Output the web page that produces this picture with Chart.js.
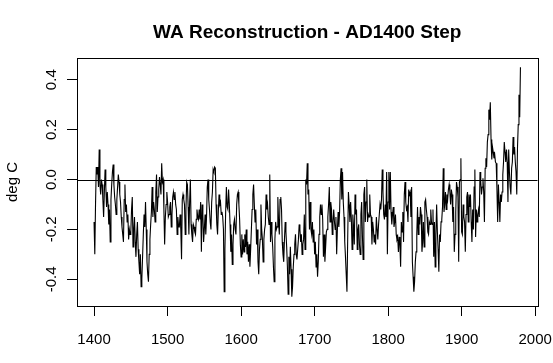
<!DOCTYPE html>
<html>
<head>
<meta charset="utf-8">
<script src="https://cdn.jsdelivr.net/npm/chart.js@4/dist/chart.umd.min.js"></script>
<style>
  html, body { margin: 0; padding: 0; background: #fff; }
  #myChart { display: block; }
</style>
</head>
<body>
<canvas id="myChart" width="553" height="363"></canvas>
<script>
// WA reconstruction, AD1400 step, one value per year (deg C)
const startYear = 1400;

const wa1400s = [
  -0.17, -0.30, -0.10, 0.05, 0.02, 0.05, -0.03, 0.12, -0.02, -0.06,
  0.00, -0.02, -0.08, -0.15, -0.05, 0.04, -0.03, -0.11, -0.05, -0.10,
  -0.18, -0.12, -0.25, -0.08, -0.02, 0.03, 0.06, -0.02, -0.07, -0.10,
  -0.14, -0.08, -0.03, 0.02, -0.01, -0.06, -0.09, -0.15, -0.19, -0.22,
  -0.25, -0.08, -0.02, -0.13, -0.10, -0.17, -0.14, -0.24, -0.20, -0.22,
  -0.21, -0.12, -0.07, -0.27, -0.20, -0.15, -0.25, -0.31, -0.22, -0.17,
  -0.28, -0.33, -0.38, -0.30, -0.43, -0.40, -0.31, -0.22, -0.14, -0.19,
  -0.09, -0.20, -0.33, -0.38, -0.41, -0.30, -0.24, -0.18, -0.13, -0.03,
  -0.15, -0.09, -0.12, -0.17, -0.05, 0.02, -0.13, -0.07, -0.04, 0.01,
  -0.02, -0.06, 0.065, -0.01, 0.00, -0.12, -0.26, -0.15, -0.10, -0.05
];
const wa1500s = [
  -0.09, -0.15, -0.14, -0.11, -0.09, -0.19, -0.14, -0.07, -0.05, -0.08,
  -0.05, -0.10, -0.12, -0.22, -0.15, -0.19, -0.19, -0.14, -0.20, -0.32,
  -0.08, -0.06, -0.08, -0.10, -0.22, -0.12, -0.01, -0.02, -0.11, -0.22,
  -0.09, 0.00, -0.18, -0.22, -0.25, -0.18, -0.19, -0.21, -0.22, -0.16,
  -0.12, -0.15, -0.16, -0.12, -0.16, -0.09, -0.29, -0.10, -0.14, -0.25,
  -0.20, -0.14, -0.22, -0.15, -0.03, 0.00, -0.08, -0.12, -0.17, -0.20,
  -0.09, -0.05, 0.04, 0.03, 0.05, 0.045, -0.10, -0.18, -0.22, -0.13,
  -0.06, -0.10, -0.09, -0.14, -0.13, -0.15, -0.20, -0.45, -0.28, -0.13,
  -0.03, -0.11, -0.12, -0.04, -0.10, -0.18, -0.29, -0.22, -0.34, -0.26,
  -0.18, -0.16, -0.20, -0.22, -0.10, -0.06, -0.05, -0.10, -0.16, -0.26
];
const wa1600s = [
  -0.31, -0.22, -0.30, -0.24, -0.29, -0.22, -0.27, -0.20, -0.30, -0.25,
  -0.33, -0.26, -0.35, -0.28, -0.20, -0.12, -0.06, -0.02, -0.10, -0.17,
  -0.12, -0.26, -0.20, -0.33, -0.38, -0.28, -0.24, -0.10, -0.20, -0.24,
  -0.33, -0.24, -0.20, -0.18, -0.06, -0.12, -0.10, -0.15, -0.18, 0.02,
  -0.25, -0.17, -0.22, -0.27, -0.35, -0.41, -0.24, -0.17, -0.20, -0.19,
  -0.07, -0.17, -0.22, -0.08, -0.07, -0.12, -0.25, -0.30, -0.33, -0.24,
  -0.17, -0.21, -0.27, -0.35, -0.46, -0.31, -0.38, -0.27, -0.36, -0.47,
  -0.43, -0.35, -0.30, -0.26, -0.22, -0.30, -0.32, -0.28, -0.24, -0.18,
  -0.20, -0.25, -0.22, -0.30, -0.26, -0.24, -0.14, -0.28, 0.00, -0.02,
  0.065, -0.06, -0.04, -0.20, -0.09, -0.20, -0.22, -0.17, -0.25, -0.20
];
const wa1700s = [
  -0.30, -0.25, -0.35, -0.30, -0.39, -0.33, -0.22, -0.15, -0.10, -0.14,
  -0.10, -0.16, -0.31, -0.22, -0.33, -0.27, -0.21, -0.20, -0.15, -0.10,
  -0.03, -0.17, -0.09, -0.12, -0.22, -0.17, -0.12, -0.17, -0.20, -0.15,
  -0.30, -0.20, -0.13, -0.19, -0.13, 0.00, 0.045, -0.08, 0.03, -0.09,
  -0.15, -0.25, -0.31, -0.38, -0.45, -0.24, -0.05, -0.10, -0.17, -0.09,
  -0.16, -0.28, -0.14, -0.19, -0.26, -0.06, -0.14, -0.12, -0.28, -0.20,
  -0.18, -0.26, -0.30, -0.14, -0.09, -0.22, -0.32, -0.06, -0.03, -0.17,
  -0.09, 0.00, -0.17, -0.14, -0.15, -0.06, -0.14, -0.15, -0.26, -0.17,
  -0.20, -0.25, -0.22, -0.26, -0.15, -0.20, -0.24, -0.18, -0.14, -0.10,
  -0.12, -0.08, 0.04, -0.05, -0.14, -0.16, -0.10, -0.15, 0.03, -0.30
];
const wa1800s = [
  -0.09, 0.03, -0.12, 0.03, -0.13, -0.18, -0.14, -0.11, -0.19, -0.17,
  -0.14, -0.22, -0.24, -0.23, -0.29, -0.23, -0.26, -0.35, -0.17, -0.21,
  -0.13, -0.25, -0.06, -0.01, -0.09, -0.12, -0.11, -0.17, -0.04, -0.06,
  -0.05, -0.15, -0.03, -0.33, -0.39, -0.45, -0.41, -0.33, -0.29, -0.22,
  -0.11, -0.22, -0.15, -0.18, -0.11, -0.14, -0.29, -0.25, -0.17, -0.27,
  -0.09, -0.08, -0.12, -0.15, -0.21, -0.22, -0.17, -0.18, -0.12, -0.17,
  -0.18, -0.12, -0.31, -0.17, -0.35, -0.22, -0.10, -0.21, -0.28, -0.37,
  -0.22, -0.25, -0.17, -0.16, -0.11, 0.045, -0.13, -0.10, -0.05, -0.12,
  -0.06, -0.08, -0.04, -0.02, -0.05, -0.10, -0.04, -0.06, -0.17, -0.11,
  -0.29, -0.22, -0.13, -0.01, -0.03, -0.07, -0.33, -0.01, 0.00, 0.085
];
const wa1900s = [
  -0.21, -0.22, -0.10, -0.15, -0.17, -0.29, -0.14, -0.07, -0.05, -0.17,
  -0.06, -0.11, -0.06, -0.17, -0.25, -0.12, -0.20, -0.03, 0.04, -0.23,
  -0.12, -0.17, -0.14, -0.12, -0.15, 0.03, -0.01, -0.06, -0.03, 0.005,
  -0.05, -0.17, 0.045, 0.085, 0.05, 0.15, 0.18, 0.28, 0.24, 0.31,
  0.16, 0.08, 0.13, 0.11, 0.085, 0.10, 0.07, 0.065, -0.035, -0.17,
  -0.02, -0.09, -0.17, -0.06, -0.09, -0.05, 0.02, 0.07, 0.15, 0.11,
  0.07, 0.12, 0.07, -0.09, 0.12, 0.03, -0.03, -0.06, 0.045, 0.07,
  0.17, 0.10, 0.13, 0.07, 0.03, -0.06, 0.13, 0.22, 0.34, 0.25,
  0.45
];

const waValues = [].concat(wa1400s, wa1500s, wa1600s, wa1700s, wa1800s, wa1900s);
const years = waValues.map((v, i) => startYear + i);

const xTicks = [1400, 1500, 1600, 1700, 1800, 1900, 2000];
const yTicks = [-0.4, -0.2, 0.0, 0.2, 0.4];
const yTickLabels = ['-0.4', '-0.2', '0.0', '0.2', '0.4'];

const titleText = 'WA Reconstruction - AD1400 Step';
const yAxisTitle = 'deg C';
const baseFont = '"Liberation Sans", Arial, sans-serif';

// R-style box, zero line, title and tick labels
const rStyle = {
    id: 'rStyle',
    afterDraw(chart) {
        const ctx = chart.ctx;
        const area = chart.chartArea;
        const xs = chart.scales.x;
        const ys = chart.scales.y;
        ctx.save();
        ctx.strokeStyle = '#000';
        ctx.lineWidth = 1;
        ctx.strokeRect(Math.round(area.left) + 0.5, Math.round(area.top) + 0.5,
            Math.round(area.right - area.left), Math.round(area.bottom - area.top));

        // abline(h = 0)
        const y0 = Math.round(ys.getPixelForValue(0)) + 0.5;
        ctx.beginPath();
        ctx.moveTo(area.left, y0);
        ctx.lineTo(area.right, y0);
        ctx.stroke();

        ctx.fillStyle = '#000';
        ctx.font = '15px ' + baseFont;
        ctx.textAlign = 'center';
        ctx.textBaseline = 'middle';
        xTicks.forEach(t => {
            ctx.fillText(String(t), xs.getPixelForValue(t), 340);
        });
        yTicks.forEach((t, i) => {
            ctx.save();
            ctx.translate(52, ys.getPixelForValue(t));
            ctx.rotate(-Math.PI / 2);
            ctx.fillText(yTickLabels[i], 0, 0);
            ctx.restore();
        });

        ctx.save();
        ctx.translate(13, (area.top + area.bottom) / 2);
        ctx.rotate(-Math.PI / 2);
        ctx.fillText(yAxisTitle, 0, 0);
        ctx.restore();

        ctx.font = 'bold 19px ' + baseFont;
        ctx.fillText(titleText, (area.left + area.right) / 2, 33);
        ctx.restore();
    }
};

const context = document.getElementById('myChart').getContext('2d');
const myChart = new Chart(context, {
    type: 'line',
    data: {
        datasets: [{
            data: years.map((yr, i) => ({ x: yr, y: waValues[i] })),
            borderColor: '#000',
            borderWidth: 1.1,
            pointRadius: 0,
            tension: 0,
            fill: false
        }]
    },
    options: {
        responsive: false,
        devicePixelRatio: 1,
        animation: false,
        layout: { padding: { top: 58, right: 15.5, left: 0, bottom: 0 } },
        plugins: {
            legend: { display: false },
            tooltip: { enabled: false },
            title: { display: false }
        },
        scales: {
            x: {
                type: 'linear',
                min: 1376.8,
                max: 2003.2,
                afterBuildTicks: s => { s.ticks = xTicks.map(v => ({ value: v })); },
                afterFit: s => { s.height = 57; },
                ticks: { display: false },
                grid: { drawOnChartArea: false, drawTicks: true, tickLength: 10, color: '#000' },
                border: { display: true, color: '#000' }
            },
            y: {
                min: -0.507,
                max: 0.487,
                afterBuildTicks: s => { s.ticks = yTicks.map(v => ({ value: v })); },
                afterFit: s => { s.width = 77; },
                ticks: { display: false },
                grid: { drawOnChartArea: false, drawTicks: true, tickLength: 10, color: '#000' },
                border: { display: true, color: '#000' }
            }
        }
    },
    plugins: [rStyle]
});
</script>
</body>
</html>
